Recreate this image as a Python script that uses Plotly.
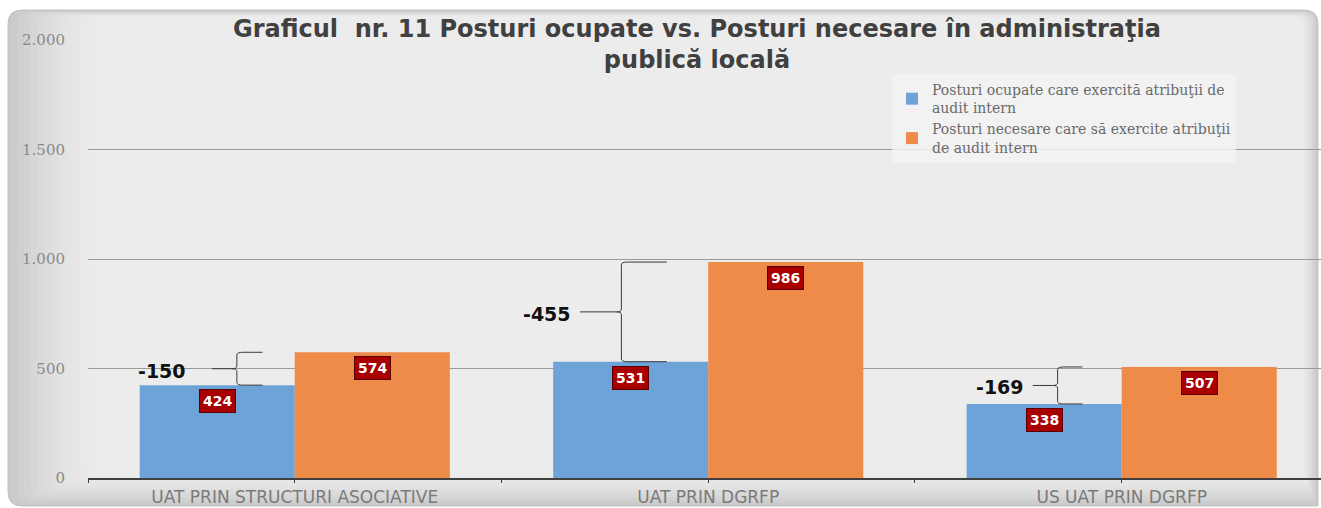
import plotly.graph_objects as go

# ---- data ----
categories = ["UAT PRIN STRUCTURI ASOCIATIVE", "UAT PRIN DGRFP", "US UAT PRIN DGRFP"]
ocupate = [424, 531, 338]
necesare = [574, 986, 507]
series_names = [
    "Posturi ocupate care exercită atribuţii de<br>audit intern",
    "Posturi necesare care să exercite atribuţii<br>de audit intern",
]
y_ticks = [0, 500, 1000, 1500, 2000]
y_ticklabels = ["0", "500", "1.000", "1.500", "2.000"]
title_text = "Graficul  nr. 11 Posturi ocupate vs. Posturi necesare în administraţia<br>publică locală"

# ---- layout positions (styling, not data) ----
brace_x = [-0.14, -0.21, -0.155]      # vertical stroke of brace, relative to category centre
brace_hook = [0.062, 0.11, 0.06]      # horizontal hook length to the right
leader_start = [-0.20, -0.31, -0.215] # start of leader line
label_x = [-0.32, -0.39, -0.295]      # diff label position

W, H = 1321, 508
ML, MR, MT, MB = 88, 0, 40, 30
PW, PH = W - ML - MR, H - MT - MB

def px_x(p):
    return (p - ML) / PW

def px_y(p):
    return (H - MB - p) / PH

def rrect(x0, y0, x1, y1, r):
    return (f"M {px_x(x0)},{px_y(y1 - r)} L {px_x(x0)},{px_y(y0 + r)} "
            f"Q {px_x(x0)},{px_y(y0)} {px_x(x0 + r)},{px_y(y0)} "
            f"L {px_x(x1 - r)},{px_y(y0)} Q {px_x(x1)},{px_y(y0)} {px_x(x1)},{px_y(y0 + r)} "
            f"L {px_x(x1)},{px_y(y1)} L {px_x(x0 + r)},{px_y(y1)} "
            f"Q {px_x(x0)},{px_y(y1)} {px_x(x0)},{px_y(y1 - r)} Z")

BLUE = "#6ea3d8"
ORANGE = "#ee8b48"

fig = go.Figure()
fig.add_trace(go.Bar(x=list(range(len(categories))), y=ocupate, name=series_names[0],
                     marker=dict(color=BLUE, line=dict(width=0))))
fig.add_trace(go.Bar(x=list(range(len(categories))), y=necesare, name=series_names[1],
                     marker=dict(color=ORANGE, line=dict(width=0))))

shapes = []
# background panel
shapes.append(dict(type="path", xref="paper", yref="paper", layer="below",
                   path=rrect(8, 10, 1318, 506, 14),
                   fillcolor="#c6c6c6", line=dict(color="#c4c4c4", width=1)))
# smooth gradient built from nested translucent rectangles
N = 13
for k in range(N):
    x0 = 10 + k * 7
    x1 = 1317 - k * 1.2
    y0 = 11 + k * 0.5
    y1 = 505 - k * 2.5
    shapes.append(dict(type="path", xref="paper", yref="paper", layer="below",
                       path=rrect(x0, y0, x1, y1, 12),
                       fillcolor="rgba(255,255,255,0.095)", line=dict(width=0)))

annotations = []
# title
annotations.append(dict(text=f"<b>{title_text}</b>", xref="paper", yref="paper",
                        x=px_x(697), y=px_y(13), xanchor="center", yanchor="top",
                        showarrow=False, align="center",
                        font=dict(family="DejaVu Sans", size=24, color="#404040")))

for i, (b, o) in enumerate(zip(ocupate, necesare)):
    # value labels
    for xv, v in ((i - 0.1875, b), (i + 0.1875, o)):
        annotations.append(dict(text=f"<b>{v}</b>", x=xv, y=v, xref="x", yref="y",
                                yshift=-16, showarrow=False, bgcolor="#a80000",
                                bordercolor="#5a0000", borderwidth=1, borderpad=3,
                                font=dict(family="DejaVu Sans", size=14, color="white")))
    top, bot = max(b, o), min(b, o)
    mid = (top + bot) / 2
    xv = i + brace_x[i]
    hw = brace_hook[i]
    d = 12
    n = 0.012
    path = (f"M {xv + hw},{top} L {xv + 0.015},{top} Q {xv},{top} {xv},{top - d} "
            f"L {xv},{mid + d} Q {xv},{mid} {xv - n},{mid} "
            f"Q {xv},{mid} {xv},{mid - d} L {xv},{bot + d} "
            f"Q {xv},{bot} {xv + 0.015},{bot} L {xv + hw},{bot}")
    shapes.append(dict(type="path", xref="x", yref="y", path=path,
                       line=dict(color="#3a3a3a", width=1)))
    shapes.append(dict(type="line", xref="x", yref="y", x0=i + leader_start[i], x1=xv - n,
                       y0=mid, y1=mid, line=dict(color="#3a3a3a", width=1)))
    annotations.append(dict(text=f"<b>-{top - bot}</b>", x=i + label_x[i], y=mid,
                            xref="x", yref="y", showarrow=False, yshift=-2,
                            font=dict(family="DejaVu Sans", size=19, color="#111111")))

fig.update_layout(
    width=W, height=H,
    margin=dict(l=ML, r=MR, t=MT, b=MB, pad=0),
    paper_bgcolor="white",
    plot_bgcolor="rgba(0,0,0,0)",
    barmode="group", bargap=0.25, bargroupgap=0,
    shapes=shapes, annotations=annotations,
    showlegend=True,
    legend=dict(x=px_x(892), y=px_y(74), xanchor="left", yanchor="top",
                bgcolor="rgba(244,244,244,0.8)", bordercolor="rgba(0,0,0,0)",
                font=dict(family="DejaVu Serif", size=14, color="#6a6a6a"),
                itemwidth=30, tracegroupgap=6),
    xaxis=dict(range=[-0.5, 2.482], tickmode="array", tickvals=list(range(len(categories))),
               ticktext=categories, showgrid=False, zeroline=False,
               showline=True, linecolor="#404040", linewidth=1.5,
               ticks="outside", ticklen=3, tickcolor="#404040",
               minor=dict(ticks="outside", ticklen=3, tick0=-0.5, dtick=1, tickcolor="#404040"),
               tickfont=dict(family="DejaVu Sans", size=17, color="#7a7a7a")),
    yaxis=dict(range=[0, 2000], tickmode="array", tickvals=y_ticks, ticktext=y_ticklabels,
               showgrid=True, gridcolor="#9a9a9a", gridwidth=1, zeroline=False,
               showline=False, ticklabelstandoff=22,
               tickfont=dict(family="DejaVu Serif", size=15, color="#8a8a8a")),
)

fig.write_html("out.html", config={"displayModeBar": False},
               post_script="document.body.style.margin='0';document.body.style.overflow='hidden';")
